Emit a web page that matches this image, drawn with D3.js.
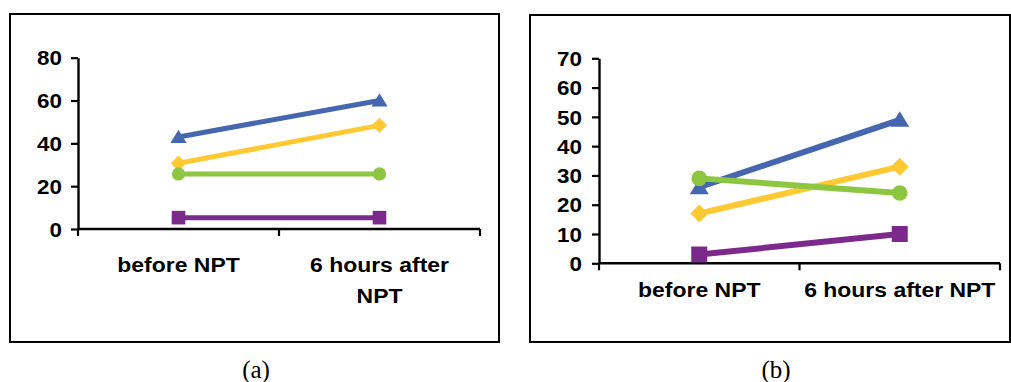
<!DOCTYPE html>
<html>
<head>
<meta charset="utf-8">
<script src="https://cdn.jsdelivr.net/npm/d3@7"></script>
<style>
  html, body { margin: 0; padding: 0; background: #fff; }
  svg { display: block; }
</style>
</head>
<body>
<svg id="chart" width="1011" height="382"></svg>
<script>
// ---- Data ----
const categories = ["before NPT", "6 hours after NPT"];
const seriesNames = ["blue", "yellow", "purple", "green"];

// Panel (a)
const aBlue   = [43, 60];
const aYellow = [30.7, 48.4];
const aPurple = [5.3, 5.3];
const aGreen  = [25.7, 25.7];
const aTicks  = [0, 20, 40, 60, 80];

// Panel (b)
const bBlue   = [26, 49];
const bYellow = [17, 33];
const bPurple = [3, 10];
const bGreen  = [29, 24];
const bTicks  = [0, 10, 20, 30, 40, 50, 60, 70];

const captions = ["(a)", "(b)"];

// ---- Styles ----
const colors = { blue: "#4667b0", yellow: "#ffc934", purple: "#7b2a8b", green: "#8dc641" };
const SX = 1.12; // horizontal stretch of the original picture's text

const svg = d3.select("#chart");

function marker(sel, name, k) {
  if (name === "blue") {
    sel.append("path").attr("d", `M0,${-8.5 * k}L${9.5 * k},${7 * k}L${-9.5 * k},${7 * k}Z`);
  } else if (name === "yellow") {
    sel.append("path").attr("d", `M0,${-9 * k}L${9 * k},0L0,${9 * k}L${-9 * k},0Z`);
  } else if (name === "purple") {
    sel.append("rect").attr("x", -8 * k).attr("y", -8 * k).attr("width", 16 * k).attr("height", 16 * k);
  } else {
    sel.append("circle").attr("r", 7.8 * k);
  }
}

function drawPanel(cfg) {
  const g = svg.append("g");
  // frame
  g.append("rect")
    .attr("x", cfg.frame[0]).attr("y", cfg.frame[1])
    .attr("width", cfg.frame[2]).attr("height", cfg.frame[3])
    .attr("fill", "none").attr("stroke", "#000").attr("stroke-width", 2);

  const x = d3.scaleBand().domain(categories).range([cfg.x0, cfg.x1]).padding(0);
  const y = d3.scaleLinear().domain([0, cfg.ymax]).range([cfg.y0, cfg.y1]);

  // y axis
  const yAxis = g.append("g").attr("transform", `translate(${cfg.x0},0)`)
    .call(d3.axisLeft(y).tickValues(cfg.ticks).tickSize(7).tickPadding(cfg.pad).tickSizeOuter(0));
  yAxis.select(".domain").attr("stroke", "#000").attr("stroke-width", 2.4);
  yAxis.selectAll(".tick line").attr("stroke", "#000").attr("stroke-width", 2.2);
  yAxis.selectAll(".tick text").each(function() {
    const t = d3.select(this);
    const xx = +t.attr("x");
    t.attr("x", null)
      .attr("transform", `translate(${xx},0) scale(${SX},1)`)
      .attr("dy", "0.36em")
      .attr("font-family", "'Liberation Sans', Arial, sans-serif")
      .attr("font-weight", "bold").attr("font-size", 20).attr("fill", "#000");
  });

  // x axis line
  g.append("line")
    .attr("x1", cfg.x0).attr("x2", cfg.x1).attr("y1", y(0)).attr("y2", y(0))
    .attr("stroke", "#000").attr("stroke-width", 2.4);
  const bounds = categories.map(c => x(c)).concat([x(categories[categories.length - 1]) + x.bandwidth()]);
  g.selectAll(".xt").data(bounds).enter().append("line")
    .attr("x1", d => d).attr("x2", d => d)
    .attr("y1", y(0)).attr("y2", y(0) + 7)
    .attr("stroke", "#000").attr("stroke-width", 2.2);

  // category labels
  categories.forEach((c, i) => {
    const lines = cfg.labelLines[i];
    lines.forEach((ln, j) => {
      g.append("text")
        .attr("transform", `translate(${x(c) + x.bandwidth() / 2},${cfg.labelY + j * 31}) scale(${SX},1)`)
        .attr("text-anchor", "middle")
        .attr("font-family", "'Liberation Sans', Arial, sans-serif")
        .attr("font-weight", "bold").attr("font-size", 20.5).attr("fill", "#000")
        .text(ln);
    });
  });

  // series
  const line = d3.line().x((d, i) => x(categories[i]) + x.bandwidth() / 2).y(d => y(d));
  seriesNames.forEach(name => {
    const vals = cfg.data[name];
    g.append("path").datum(vals)
      .attr("d", line).attr("fill", "none")
      .attr("stroke", colors[name]).attr("stroke-width", cfg.lw);
    vals.forEach((d, i) => {
      const m = g.append("g")
        .attr("transform", `translate(${x(categories[i]) + x.bandwidth() / 2},${y(d)})`)
        .attr("fill", colors[name]);
      marker(m, name, cfg.mk);
    });
  });

  // caption
  svg.append("text")
    .attr("x", cfg.capX).attr("y", 378)
    .attr("text-anchor", "middle")
    .attr("font-family", "'Liberation Serif', 'DejaVu Serif', serif")
    .attr("font-size", 25).attr("fill", "#000")
    .text(cfg.caption);
}

drawPanel({
  frame: [10, 14, 489, 328],
  x0: 78, x1: 480, y0: 229, y1: 57.7, ymax: 80, ticks: aTicks, pad: 9,
  data: { blue: aBlue, yellow: aYellow, purple: aPurple, green: aGreen },
  labelLines: [["before NPT"], ["6 hours after", "NPT"]],
  labelY: 272, lw: 5, mk: 0.85,
  caption: captions[0], capX: 256
});

drawPanel({
  frame: [530, 15, 480, 327],
  x0: 599, x1: 1000, y0: 263.3, y1: 58.3, ymax: 70, ticks: bTicks, pad: 10,
  data: { blue: bBlue, yellow: bYellow, purple: bPurple, green: bGreen },
  labelLines: [["before NPT"], ["6 hours after NPT"]],
  labelY: 297, lw: 6, mk: 1,
  caption: captions[1], capX: 776
});
</script>
</body>
</html>
